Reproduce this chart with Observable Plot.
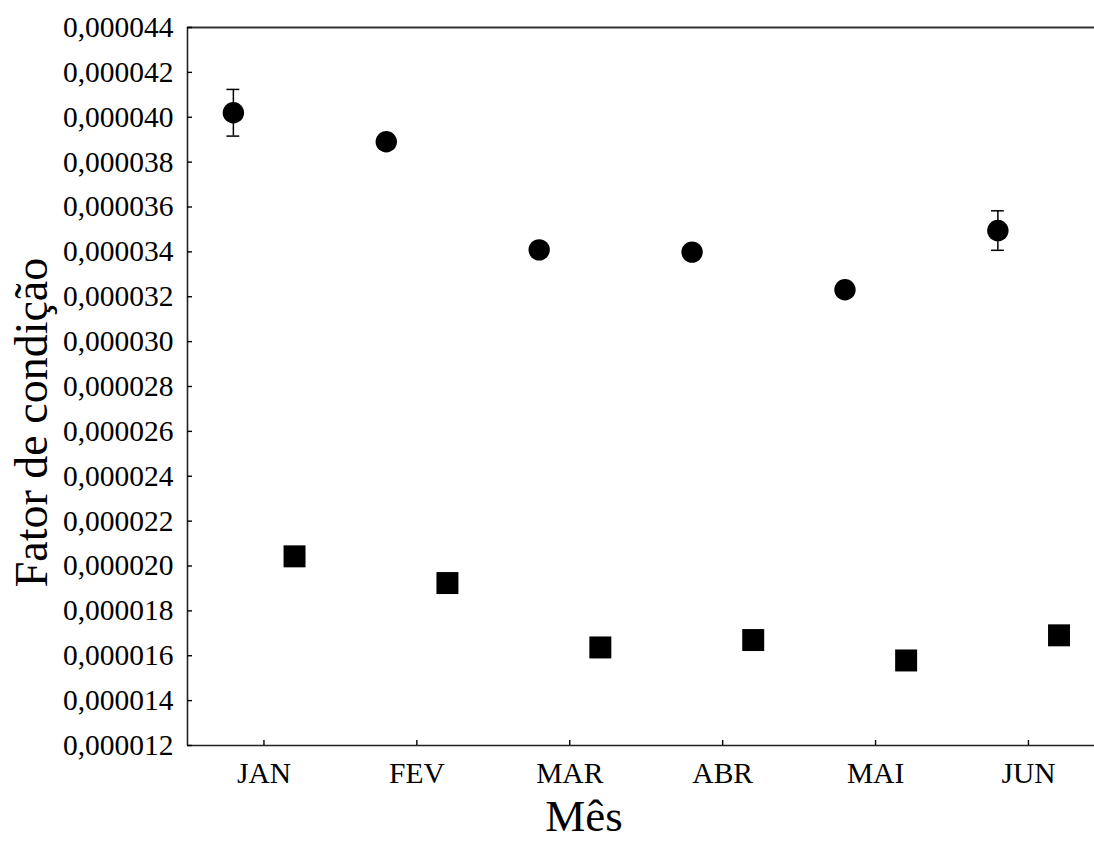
<!DOCTYPE html>
<html><head><meta charset="utf-8">
<script src="https://cdn.jsdelivr.net/npm/d3@7"></script>
<script src="https://cdn.jsdelivr.net/npm/@observablehq/plot@0.6"></script>
<style>body{margin:0;background:#fff}</style>
</head><body><div id="chart"></div>
<script>
const months = ["JAN", "FEV", "MAR", "ABR", "MAI", "JUN"];
const circleMean = [0.00004020, 0.00003891, 0.00003409, 0.00003399, 0.00003231, 0.00003495];
const circleErr  = [0.00000104, 0.00000020, 0.00000020, 0.00000020, 0.00000020, 0.00000088];
const squareMean = [0.00002043, 0.00001924, 0.00001637, 0.00001670, 0.00001579, 0.00001691];
const yTicks = [0.000012, 0.000014, 0.000016, 0.000018, 0.000020, 0.000022, 0.000024, 0.000026,
  0.000028, 0.000030, 0.000032, 0.000034, 0.000036, 0.000038, 0.000040, 0.000042, 0.000044];
const yLabel = "Fator de condição";
const xLabel = "Mês";

const xTicks = months.map((_, i) => i);
const data = months.map((m, i) => ({i, m, c: circleMean[i], e: circleErr[i], s: squareMean[i]}));
const off = 0.2, cap = 0.042;
const fmt = v => d3.format(".6f")(v).replace(".", ",");
const yMin = yTicks[0], yMax = yTicks[yTicks.length - 1];

const chart = Plot.plot({
  width: 1094,
  height: 841,
  marginLeft: 187,
  marginRight: 0,
  marginTop: 27,
  marginBottom: 96,
  style: {fontFamily: "'Liberation Serif', 'Times New Roman', serif", fontSize: "29.5px", color: "#000", background: "#fff"},
  x: {type: "linear", domain: [-0.5, 5.5], range: [187, 1104.4]},
  y: {domain: [yMin, yMax]},
  marks: [
    Plot.ruleY([yMax], {stroke: "#333", strokeWidth: 2}),
    Plot.ruleY([yMin], {stroke: "#222", strokeWidth: 1.6}),
    Plot.ruleX([-0.5], {stroke: "#222", strokeWidth: 1.6}),
    Plot.axisY(yTicks, {tickSize: 5, text: null, dx: 5, label: null, strokeWidth: 1.4}),
    Plot.axisX(xTicks, {tickSize: 5, text: null, dy: -5, label: null, strokeWidth: 1.4}),
    Plot.axisY(yTicks, {tickSize: 0, tickPadding: 14, tickFormat: fmt, label: null, fontSize: 29.5}),
    Plot.axisX(xTicks, {tickSize: 0, tickPadding: 17, tickFormat: i => months[i], label: null, fontSize: 29.5}),
    Plot.ruleX(data, {x: d => d.i - off, y1: d => d.c - d.e, y2: d => d.c + d.e, strokeWidth: 1.5}),
    Plot.ruleY(data, {y: d => d.c + d.e, x1: d => d.i - off - cap, x2: d => d.i - off + cap, strokeWidth: 1.5}),
    Plot.ruleY(data, {y: d => d.c - d.e, x1: d => d.i - off - cap, x2: d => d.i - off + cap, strokeWidth: 1.5}),
    Plot.dot(data, {x: d => d.i - off, y: "c", r: 10.7, fill: "#000", stroke: "none"}),
    Plot.dot(data, {x: d => d.i + off, y: "s", r: 12.4, symbol: "square", fill: "#000", stroke: "none"}),
    Plot.text([yLabel], {frameAnchor: "left", textAnchor: "middle", lineAnchor: "middle", rotate: -90, dx: -155, dy: 36, fontSize: 46}),
    Plot.text([xLabel], {frameAnchor: "bottom", textAnchor: "middle", lineAnchor: "middle", dx: -57, dy: 71, fontSize: 45})
  ]
});
document.getElementById("chart").appendChild(chart);
</script>
</body></html>
